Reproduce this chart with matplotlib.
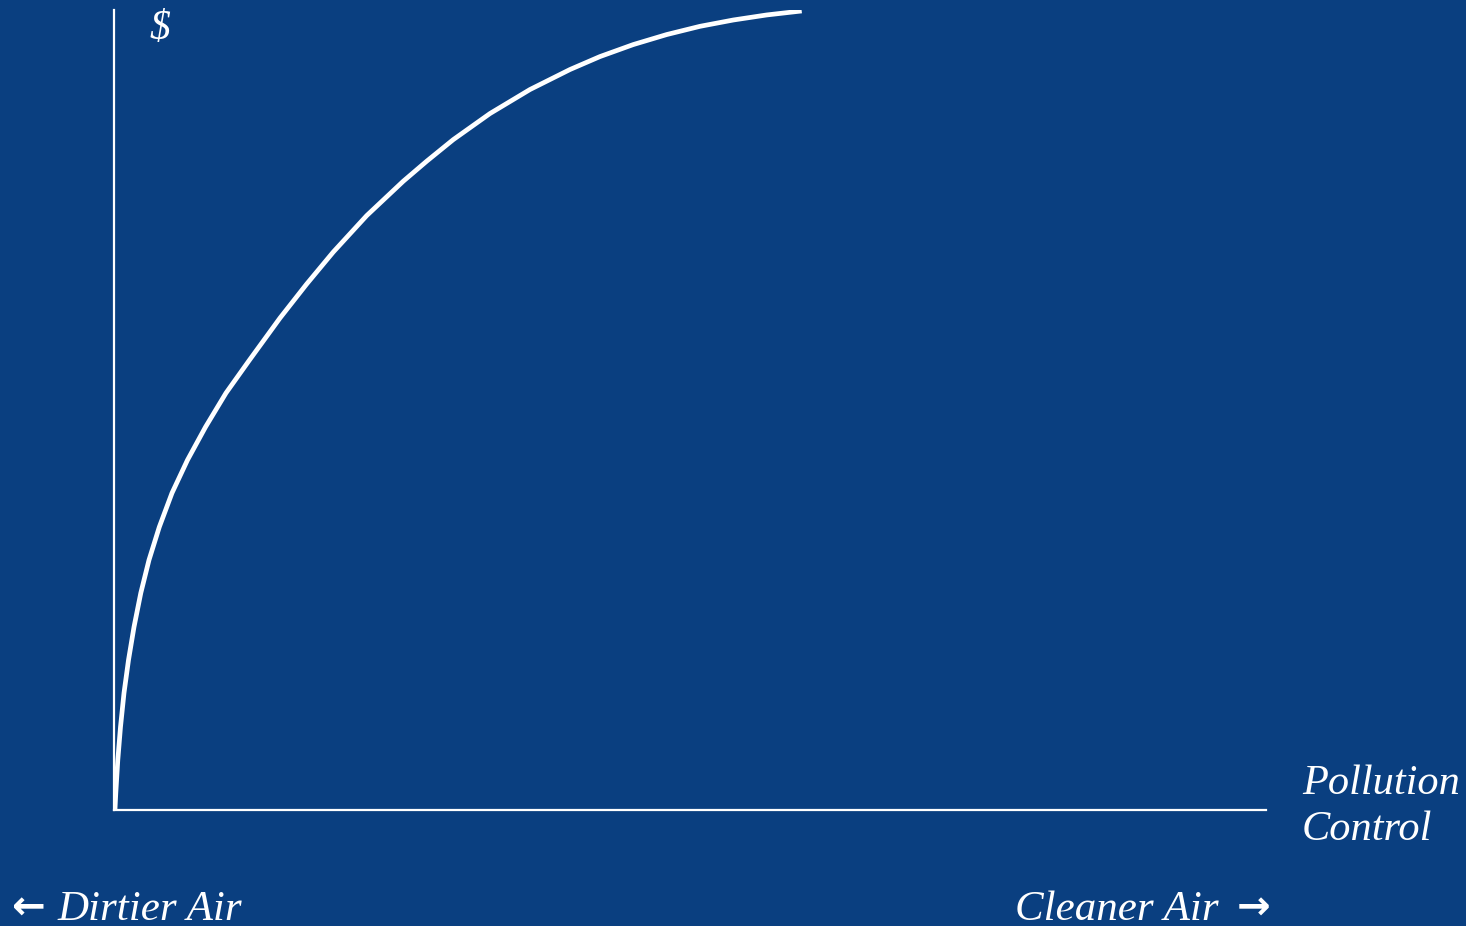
import matplotlib.pyplot as plt

# curve (x: pollution control, y: $), arbitrary 0-100 units
control = [0.087, 0.156, 0.33, 0.564, 0.868, 1.259, 1.736, 2.326, 3.038,
           3.932, 5.035, 6.380, 7.943, 9.722, 11.762, 14.410, 16.727, 19.036,
           21.936, 25.113, 27.144, 29.453, 32.639, 36.111, 39.583, 42.188,
           45.078, 47.977, 50.868, 53.759, 56.658, 59.696]
dollars = [0.125, 2.125, 6.25, 10.375, 14.625, 18.75, 22.875, 27.125, 31.25,
           35.375, 39.625, 43.75, 47.875, 52.125, 56.25, 61.5, 65.75, 69.75,
           74.3, 78.6, 81.1, 83.8, 87.06, 90.06, 92.56, 94.18,
           95.68, 96.93, 97.96, 98.75, 99.38, 99.88]

y_label = "$"
x_label = "Pollution\nControl"
left_label = "Dirtier Air"
right_label = "Cleaner Air"

bg = "#0a3f80"
W, H = 1466, 926

fig = plt.figure(figsize=(W / 100, H / 100), dpi=100, facecolor=bg)
ax = fig.add_axes([114 / W, (H - 810) / H, 1152 / W, 800 / H])
ax.set_facecolor(bg)
ax.set_xlim(0, 100)
ax.set_ylim(0, 100)

ax.plot(control, dollars, color="white", lw=3.4, solid_capstyle="butt",
        solid_joinstyle="round")

for side in ["top", "right"]:
    ax.spines[side].set_visible(False)
for side in ["left", "bottom"]:
    ax.spines[side].set_color("white")
    ax.spines[side].set_linewidth(1.6)
ax.set_xticks([])
ax.set_yticks([])

serif = ["Liberation Serif", "DejaVu Serif"]
txt = dict(color="white", style="italic", family=serif)

fig.text(160 / W, 1 - 29 / H, y_label, ha="center", va="center",
         fontsize=30, **txt)
fig.text(1302 / W, 1 - 840 / H, x_label, ha="left", va="baseline",
         linespacing=1.25, fontsize=30.5, **txt)

base = 1 - 920 / H
fig.text(57 / W, base, left_label, ha="left", va="baseline", fontsize=31, **txt)
fig.text(1015 / W, base, right_label, ha="left", va="baseline", fontsize=31, **txt)

arrow = dict(color="white", family="DejaVu Sans", fontsize=29, fontweight="bold")
fig.text(12 / W, base, "\u2190", ha="left", va="baseline", **arrow)
fig.text(1270 / W, base, "\u2192", ha="right", va="baseline", **arrow)

fig.savefig("out.png", dpi=100, facecolor=bg)
